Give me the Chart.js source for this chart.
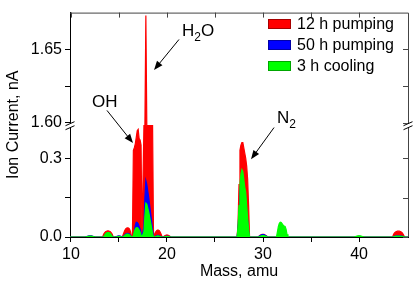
<!DOCTYPE html>
<html>
<head>
<meta charset="utf-8">
<script src="https://cdn.jsdelivr.net/npm/chart.js@4.4.0/dist/chart.umd.min.js"></script>
<style>
  html, body { margin: 0; padding: 0; background: #fff; }
</style>
</head>
<body>
<canvas id="spectrum" width="415" height="291"></canvas>
<script>
// mass grid (amu), shared by the three spectra
const mass = [
  9.9,
  11.5, 11.7, 11.9, 12.1, 12.3, 12.5,
  13.3, 13.4, 13.5, 13.6, 13.7, 13.8, 13.9, 14.0, 14.1, 14.2, 14.3, 14.4,
  14.6, 14.8, 15.0, 15.2, 15.35,
  15.4, 15.5, 15.6, 15.7, 15.8, 15.9, 16.0, 16.1, 16.2, 16.3,
  16.4, 16.5, 16.6, 16.7, 16.8, 16.9, 17.0, 17.1, 17.2, 17.3, 17.4, 17.5,
  17.6, 17.7, 17.8, 17.9, 18.0, 18.1, 18.2, 18.3, 18.4, 18.5, 18.6,
  18.7, 18.8, 18.9, 19.0, 19.1, 19.2, 19.3, 19.4, 19.5,
  19.6, 19.8, 20.0, 20.2, 20.4,
  27.3, 27.4, 27.5, 27.6, 27.7, 27.8, 27.9, 28.0, 28.1, 28.2, 28.3, 28.4, 28.5, 28.6,
  29.5, 29.7, 29.9, 30.1, 30.3, 30.5,
  31.4, 31.5, 31.6, 31.7, 31.8, 31.9, 32.0, 32.1, 32.2, 32.3, 32.4, 32.5, 32.6,
  39.5, 39.7, 39.9, 40.1, 40.3, 40.5,
  43.5, 43.6, 43.7, 43.8, 43.9, 44.0, 44.1, 44.2, 44.3, 44.4, 44.5, 44.6, 44.7, 44.8,
  45.1
];

// ion current, nA
const pumping12h = [
  0,
  0, .002, .003, .003, .002, 0,
  0, .010, .016, .020, .022, .023, .023, .022, .020, .016, .010, 0,
  0, .002, .003, .002, 0,
  0, .015, .025, .031, .034, .035, .034, .030, .020, 0,
  0, .33, .34, .355, .38, .405, .41, .375, .37, .35, 0, 0,
  .6, .9, 1.673, .9, .8, .7, .6, .55, .5, .44, 0,
  .010, .018, .023, .026, .026, .024, .018, .010, 0,
  0, .006, .008, .006, 0,
  0, .05, .2, .33, .35, .36, .36, .34, .32, .3, .27, .22, .12, 0,
  0, .007, .010, .010, .006, 0,
  0, .003, .006, .008, .009, .009, .009, .008, .007, .006, .004, .002, 0,
  0, .001, .002, .002, .001, 0,
  0, .010, .016, .019, .021, .022, .022, .022, .021, .019, .016, .010, .003, 0,
  0
];

const pumping50h = [
  0,
  0, .003, .004, .004, .003, 0,
  0, 0, .005, .010, .013, .015, .015, .014, .011, .007, .002, 0,
  0, .003, .004, .003, 0,
  0, .004, .008, .011, .013, .014, .013, .011, .006, 0,
  0, 0, .02, .045, .056, .055, .05, .04, .03, .015, 0, 0,
  .04, .15, .215, .2, .175, .15, .12, .09, .06, .025, 0,
  0, .003, .005, .006, .006, .005, .003, 0, 0,
  0, .002, .003, .002, 0,
  0, .03, .1, .17, .21, .23, .225, .2, .17, .15, .1, .06, .02, 0,
  0, .006, .009, .009, .005, 0,
  0, .003, .005, .007, .008, .008, .008, .007, .006, .005, .004, .002, 0,
  0, .001, .002, .002, .001, 0,
  0, .002, .003, .004, .004, .004, .004, .004, .004, .003, .003, .002, 0, 0,
  0
];

const cooling3h = [
  0,
  0, .002, .003, .003, .002, 0,
  0, 0, .006, .012, .015, .017, .017, .016, .013, .008, .002, 0,
  0, .001, .002, .001, 0,
  0, .002, .006, .009, .011, .011, .010, .008, .004, 0,
  0, .005, .02, .03, .035, .036, .033, .027, .018, .008, 0, 0,
  .02, .08, .129, .125, .11, .095, .075, .055, .035, .012, 0,
  0, .002, .003, .004, .004, .003, .002, 0, 0,
  0, .001, .002, .001, 0,
  0, .04, .12, .2, .24, .257, .25, .22, .19, .17, .12, .07, .03, 0,
  0, .003, .005, .005, .003, 0,
  0, .02, .04, .052, .056, .055, .05, .045, .042, .04, .03, .01, 0,
  0, .003, .004, .004, .003, 0,
  0, .001, .002, .003, .003, .003, .003, .003, .003, .002, .002, .001, 0, 0,
  0
];

const seriesLabels = ['12 h pumping', '50 h pumping', '3 h cooling'];
const seriesColors = ['#ff0000', '#0000ff', '#00ff00'];

const xTicks = [10, 15, 20, 25, 30, 35, 40];
const xTickLabels = ['10', '', '20', '', '30', '', '40'];
const yTicks = [0, 0.15, 0.3, 1.60, 1.625, 1.65];
const yTickLabels = ['0.0', '', '0.3', '1.60', '', '1.65'];

// the y axis is broken: lower and upper value ranges
const yLower = [0, 0.424];
const yUpper = [1.598, 1.675];
const breakFrac = 0.504;   // break position, fraction of axis height from the top

class BrokenLinearScale extends Chart.LinearScale {
  buildTicks() {
    return yTicks.map(v => ({ value: v }));
  }
  breakPixel() {
    return this.top + (this.bottom - this.top) * breakFrac;
  }
  getPixelForValue(v) {
    const brk = this.breakPixel();
    if (v <= yLower[1]) {
      return this.bottom - (v - yLower[0]) / (yLower[1] - yLower[0]) * (this.bottom - brk);
    }
    if (v >= yUpper[0]) {
      return brk - (v - yUpper[0]) / (yUpper[1] - yUpper[0]) * (brk - this.top);
    }
    return brk;
  }
  getValueForPixel(p) {
    const brk = this.breakPixel();
    if (p >= brk) return yLower[0] + (this.bottom - p) / (this.bottom - brk) * (yLower[1] - yLower[0]);
    return yUpper[0] + (brk - p) / (brk - this.top) * (yUpper[1] - yUpper[0]);
  }
}
BrokenLinearScale.id = 'brokenLinear';
BrokenLinearScale.defaults = Chart.LinearScale.defaults;
Chart.register(BrokenLinearScale);

// callouts, in data units (mass, current)
const callouts = [
  { text: 'OH', sub: '', at: [12.19, 1.6104], from: [13.75, 1.6084], to: [16.46, 0.358] },
  { text: 'H', sub: '2', tail: 'O', at: [21.56, 1.6594], from: [21.25, 1.6567], to: [18.65, 1.6359] },
  { text: 'N', sub: '2', at: [31.46, 1.600], from: [31.15, 0.417], to: [28.75, 0.296] }
];

const FONT = "'Liberation Sans', Arial, sans-serif";

function arrow(ctx, x1, y1, x2, y2) {
  const ang = Math.atan2(y2 - y1, x2 - x1);
  const len = 9, half = 3.5;
  ctx.beginPath();
  ctx.moveTo(x1, y1);
  ctx.lineTo(x2 - Math.cos(ang) * len * 0.8, y2 - Math.sin(ang) * len * 0.8);
  ctx.stroke();
  ctx.beginPath();
  ctx.moveTo(x2, y2);
  ctx.lineTo(x2 - Math.cos(ang) * len + Math.sin(ang) * half, y2 - Math.sin(ang) * len - Math.cos(ang) * half);
  ctx.lineTo(x2 - Math.cos(ang) * len - Math.sin(ang) * half, y2 - Math.sin(ang) * len + Math.cos(ang) * half);
  ctx.closePath();
  ctx.fill();
}

const decorations = {
  id: 'decorations',
  afterDraw(chart) {
    const { ctx, chartArea: a, scales: { x, y } } = chart;
    ctx.save();

    // top and right frame with inward ticks
    ctx.strokeStyle = '#444';
    ctx.lineWidth = 1;
    ctx.beginPath();
    ctx.moveTo(a.left, a.top + 0.5);
    ctx.lineTo(a.right + 0.5, a.top + 0.5);
    ctx.lineTo(a.right + 0.5, a.bottom);
    ctx.stroke();
    ctx.beginPath();
    xTicks.forEach(v => {
      const px = Math.round(x.getPixelForValue(v)) + 0.5;
      ctx.moveTo(px, a.top);
      ctx.lineTo(px, a.top + 5);
    });
    yTicks.forEach(v => {
      const py = Math.round(y.getPixelForValue(v)) + 0.5;
      ctx.moveTo(a.right, py);
      ctx.lineTo(a.right - 5, py);
    });
    ctx.stroke();

    // axis break marks
    const by = y.breakPixel();
    [a.left, a.right].forEach(ax => {
      ctx.fillStyle = '#fff';
      ctx.fillRect(ax - 1.5, by - 2, 3, 4);
      ctx.strokeStyle = '#000';
      ctx.beginPath();
      [-2, 2].forEach(d => {
        ctx.moveTo(ax - 4.5, by + d + 2);
        ctx.lineTo(ax + 4.5, by + d - 2);
      });
      ctx.stroke();
    });

    // legend
    ctx.font = '16px ' + FONT;
    ctx.textBaseline = 'middle';
    ctx.textAlign = 'left';
    seriesLabels.forEach((lab, i) => {
      const ry = 24 + i * 21;
      ctx.fillStyle = seriesColors[i];
      ctx.fillRect(268, ry - 5, 23, 10);
      ctx.strokeStyle = 'rgba(0,0,0,0.35)';
      ctx.strokeRect(268.5, ry - 4.5, 22, 9);
      ctx.fillStyle = '#000';
      ctx.fillText(lab, 297, ry + 1);
    });

    // callouts
    ctx.fillStyle = '#000';
    ctx.strokeStyle = '#000';
    ctx.lineWidth = 1;
    ctx.textBaseline = 'alphabetic';
    callouts.forEach(c => {
      let tx = x.getPixelForValue(c.at[0]);
      const ty = y.getPixelForValue(c.at[1]);
      ctx.font = '17px ' + FONT;
      ctx.fillText(c.text, tx, ty);
      tx += ctx.measureText(c.text).width;
      if (c.sub) {
        ctx.font = '12px ' + FONT;
        ctx.fillText(c.sub, tx, ty + 5);
        tx += ctx.measureText(c.sub).width;
      }
      if (c.tail) {
        ctx.font = '17px ' + FONT;
        ctx.fillText(c.tail, tx, ty);
      }
      arrow(ctx, x.getPixelForValue(c.from[0]), y.getPixelForValue(c.from[1]),
                 x.getPixelForValue(c.to[0]), y.getPixelForValue(c.to[1]));
    });
    ctx.restore();
  }
};

function series(values, i) {
  return {
    label: seriesLabels[i],
    data: mass.map((m, k) => ({ x: m, y: values[k] })),
    borderColor: seriesColors[i],
    backgroundColor: seriesColors[i],
    borderWidth: 1.2,
    pointRadius: 0,
    tension: 0,
    fill: 'origin',
    order: 3 - i
  };
}

Chart.defaults.font.family = FONT;
Chart.defaults.font.size = 16;
Chart.defaults.color = '#000';

new Chart(document.getElementById('spectrum').getContext('2d'), {
  type: 'line',
  data: {
    datasets: [series(pumping12h, 0), series(pumping50h, 1), series(cooling3h, 2)]
  },
  options: {
    responsive: false,
    animation: false,
    events: [],
    layout: { padding: { left: 0, top: 3, right: 7, bottom: 0 } },
    plugins: { legend: { display: false }, tooltip: { enabled: false } },
    scales: {
      x: {
        type: 'linear',
        min: 9.9,
        max: 45.1,
        afterFit: s => { s.height = 54; },
        afterBuildTicks: s => { s.ticks = xTicks.map(v => ({ value: v })); },
        ticks: {
          autoSkip: false,
          maxRotation: 0,
          padding: 3,
          callback: (v, i) => xTickLabels[i]
        },
        grid: { drawOnChartArea: false, color: '#000', tickLength: 5 },
        border: { color: '#000', width: 1 },
        title: { display: true, text: 'Mass, amu', font: { size: 16 }, padding: { top: 0, bottom: 10 } }
      },
      y: {
        type: 'brokenLinear',
        min: 0,
        max: 1.675,
        afterFit: s => { s.width = 70; },
        ticks: {
          autoSkip: false,
          padding: 3,
          callback: (v, i) => yTickLabels[i]
        },
        grid: { drawOnChartArea: false, color: '#000', tickLength: 5 },
        border: { color: '#000', width: 1 },
        title: { display: true, text: 'Ion Current, nA', font: { size: 16 }, padding: { top: 4, bottom: 0 } }
      }
    }
  },
  plugins: [decorations]
});
</script>
</body>
</html>
